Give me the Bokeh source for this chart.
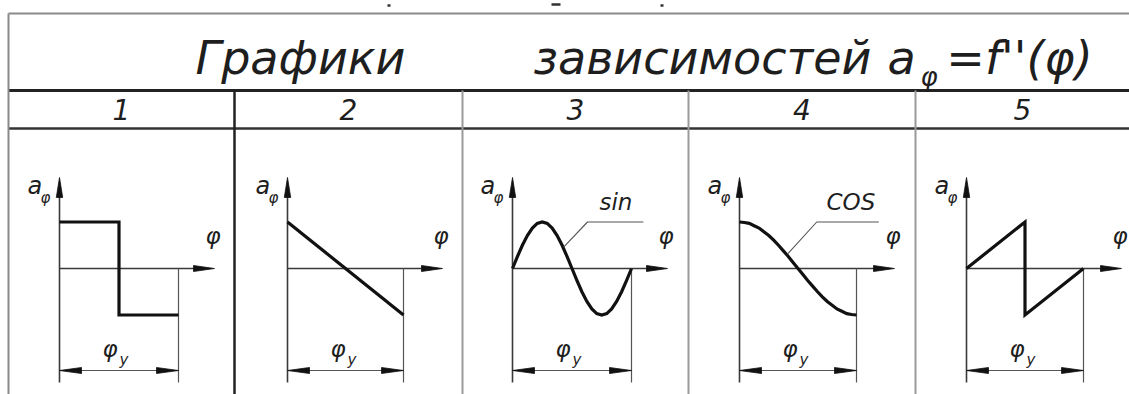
from bokeh.plotting import figure
from bokeh.models import Range1d
from bokeh.core.properties import value
from bokeh.embed import file_html
from bokeh.resources import INLINE

# ---------------- data ----------------
title_words = ["Графики", "зависимостей"]
title_formula = ["a", "φ", "=f''(φ)"]
column_labels = ["1", "2", "3", "4", "5"]
axis_label_a = ["a", "φ"]
axis_label_phi = "φ"
dim_label = ["φ", "y"]
curve_names = ["", "", "sin", "COS", ""]

# phi in units of phi_y, a normalised to the amplitude
law1_phi = [0.0, 0.5, 0.5, 1.0]
law1_a = [1.0, 1.0, -1.0, -1.0]
law2_phi = [0.0, 1.0]
law2_a = [1.0, -1.0]
law3_phi = [0.0, 0.042, 0.083, 0.125, 0.167, 0.208, 0.25, 0.292, 0.333, 0.375, 0.417, 0.458, 0.5,
            0.542, 0.583, 0.625, 0.667, 0.708, 0.75, 0.792, 0.833, 0.875, 0.917, 0.958, 1.0]
law3_a = [0.0, 0.26, 0.5, 0.71, 0.87, 0.97, 1.0, 0.97, 0.87, 0.71, 0.5, 0.26, 0.0,
          -0.26, -0.5, -0.71, -0.87, -0.97, -1.0, -0.97, -0.87, -0.71, -0.5, -0.26, 0.0]
law4_phi = law3_phi
law4_a = [1.0, 0.99, 0.97, 0.92, 0.87, 0.79, 0.71, 0.61, 0.5, 0.38, 0.26, 0.13, 0.0,
          -0.13, -0.26, -0.38, -0.5, -0.61, -0.71, -0.79, -0.87, -0.92, -0.97, -0.99, -1.0]
law5_phi = [0.0, 0.5, 0.5, 1.0]
law5_a = [0.0, 1.0, -1.0, 0.0]
laws_phi = [law1_phi, law2_phi, law3_phi, law4_phi, law5_phi]
laws_a = [law1_a, law2_a, law3_a, law4_a, law5_a]

leader3_phi = [0.43, 0.63, 1.10]
leader3_a = [0.46, 1.0, 1.0]
leader4_phi = [0.41, 0.66, 1.19]
leader4_a = [0.31, 1.0, 1.0]

# ---------------- layout (sheet pixels) ----------------
X_MIN, X_MAX, Y_TOP, Y_BOT = 0, 1129, 0, 394
X0 = [59, 287, 512, 739, 966]
WID = [119, 116, 119, 117, 117]
AXIS_Y = 268
AMP = 46.5
Y_ARROW = 177
Y_LOW = 382
DIM_Y = 370
X_TIP = 155
COL_EDGES = [8, 234, 462, 688, 915, 1129]
ROW_TOP, ROW_HEAD, ROW_NUM = 13, 90, 128
SHIFT = 0.4  # baseline correction, fraction of font size

FONT = value("DejaVu Sans")
INK = "#1e1e1e"

p = figure(width=X_MAX - X_MIN, height=Y_BOT - Y_TOP,
           x_range=Range1d(X_MIN, X_MAX), y_range=Range1d(Y_BOT, Y_TOP),
           x_axis_type=None, y_axis_type=None,
           output_backend="svg", toolbar_location=None,
           min_border=0, outline_line_color=None)
p.grid.visible = False
p.background_fill_color = "white"

p.extra_y_ranges = {"a": Range1d(-(Y_BOT - AXIS_Y) / AMP, (AXIS_Y - Y_TOP) / AMP)}
for i, (x0, w) in enumerate(zip(X0, WID)):
    p.extra_x_ranges[f"p{i}"] = Range1d((X_MIN - x0) / w, (X_MAX - x0) / w)


def txt(x, base, labels, size, align="left"):
    p.text(x=x, y=[base - SHIFT * size] * len(x), text=labels, text_font=FONT,
           text_font_style="italic", text_font_size=f"{size}px", text_align=align,
           text_baseline="alphabetic", text_color=INK)


# ---------------- table ----------------
p.segment(x0=[COL_EDGES[0]], y0=[ROW_TOP], x1=[X_MAX], y1=[ROW_TOP], line_color="#8a8a8a", line_width=2)
p.segment(x0=[COL_EDGES[0]], y0=[ROW_HEAD], x1=[X_MAX], y1=[ROW_HEAD], line_color="#222222", line_width=3)
p.segment(x0=[COL_EDGES[0]], y0=[ROW_NUM], x1=[X_MAX], y1=[ROW_NUM], line_color="#333333", line_width=2.5)
p.segment(x0=[COL_EDGES[0]], y0=[ROW_TOP], x1=[COL_EDGES[0]], y1=[Y_BOT], line_color="#8a8a8a", line_width=2)
p.segment(x0=[COL_EDGES[1]], y0=[ROW_HEAD], x1=[COL_EDGES[1]], y1=[Y_BOT], line_color="#222222", line_width=2.5)
p.segment(x0=COL_EDGES[2:5], y0=[ROW_HEAD] * 3, x1=COL_EDGES[2:5], y1=[Y_BOT] * 3,
          line_color="#9a9a9a", line_width=2)
# small ink marks above the frame
p.segment(x0=[387, 551, 660], y0=[5, 4, 5], x1=[390, 560, 663], y1=[5, 4, 5],
          line_color="#333333", line_width=2.5)

# title
txt([300, 702], 76, title_words, 46, "center")
txt([887], 76, [title_formula[0]], 46)
txt([920], 87, [title_formula[1]], 26)
txt([1019], 76, [title_formula[2]], 46, "center")

# column numbers
centers = [(COL_EDGES[i] + COL_EDGES[i + 1]) / 2 for i in range(5)]
txt(centers, 120, column_labels, 28, "center")


def head(tx, ty, direction, length, half):
    if direction == "up":
        return [tx, tx - half, tx + half], [ty, ty + length, ty + length]
    if direction == "right":
        return [tx, tx - length, tx - length], [ty, ty - half, ty + half]
    return [tx, tx + length, tx + length], [ty, ty - half, ty + half]


hx, hy = [], []
for i, (x0, w) in enumerate(zip(X0, WID)):
    # axes
    p.segment(x0=[x0, x0], y0=[Y_LOW, AXIS_Y], x1=[x0, x0 + X_TIP - 10], y1=[Y_ARROW + 10, AXIS_Y],
              line_color="#3a3a3a", line_width=1.6)
    # extension + dimension line
    p.segment(x0=[x0 + w, x0], y0=[AXIS_Y, DIM_Y], x1=[x0 + w, x0 + w], y1=[Y_LOW, DIM_Y],
              line_color="#555555", line_width=1.2)
    for hd in (head(x0, Y_ARROW, "up", 20, 3.2), head(x0 + X_TIP, AXIS_Y, "right", 21, 3),
               head(x0, DIM_Y, "left", 22, 3), head(x0 + w, DIM_Y, "right", 22, 3)):
        hx.append(hd[0])
        hy.append(hd[1])
    # curve
    p.line(laws_phi[i], laws_a[i], x_range_name=f"p{i}", y_range_name="a",
           line_color="#111111", line_width=3.2, line_join="miter")
    # labels
    txt([x0 - 32], 195, [axis_label_a[0]], 24)
    txt([x0 - 19], 203, [axis_label_a[1]], 15)
    txt([x0 + 146], 245, [axis_label_phi], 23)
    txt([x0 + 43], 358, [dim_label[0]], 23)
    txt([x0 + 60], 365, [dim_label[1]], 15)
    if curve_names[i]:
        txt([x0 + 87], 211, [curve_names[i]], 23)

p.patches(hx, hy, fill_color="#111111", line_color="#111111", line_width=0.8)

p.line(leader3_phi, leader3_a, x_range_name="p2", y_range_name="a", line_color="#555555", line_width=1.1)
p.line(leader4_phi, leader4_a, x_range_name="p3", y_range_name="a", line_color="#555555", line_width=1.1)

open("out.html", "w").write(file_html(p, INLINE))
